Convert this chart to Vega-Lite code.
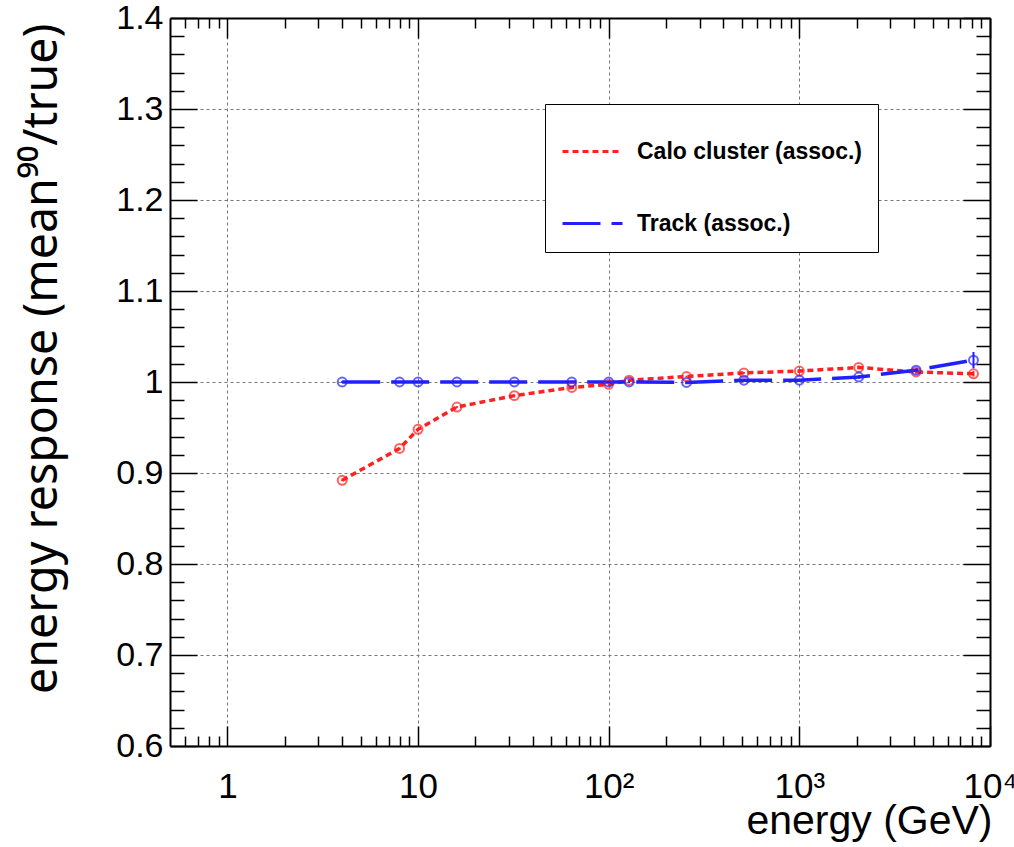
{
  "$schema": "https://vega.github.io/schema/vega-lite/v6.json",
  "autosize": "none",
  "width": 820,
  "height": 728,
  "padding": {"left": 170, "top": 18, "right": 24, "bottom": 101},
  "background": "white",
  "config": {
    "view": {"stroke": null},
    "font": "Liberation Sans",
    "axis": {"labelFont": "Liberation Sans", "titleFont": "Liberation Sans", "labelColor": "black", "titleColor": "black", "tickColor": "black", "domainColor": "black"}
  },
  "data": {
    "values": [
      {"series": "Calo cluster (assoc.)", "energy": 4, "resp": 0.892, "err": 0.001},
      {"series": "Calo cluster (assoc.)", "energy": 8, "resp": 0.927, "err": 0.001},
      {"series": "Calo cluster (assoc.)", "energy": 10, "resp": 0.948, "err": 0.001},
      {"series": "Calo cluster (assoc.)", "energy": 16, "resp": 0.9725, "err": 0.001},
      {"series": "Calo cluster (assoc.)", "energy": 32, "resp": 0.985, "err": 0.001},
      {"series": "Calo cluster (assoc.)", "energy": 64, "resp": 0.994, "err": 0.001},
      {"series": "Calo cluster (assoc.)", "energy": 100, "resp": 0.9975, "err": 0.001},
      {"series": "Calo cluster (assoc.)", "energy": 128, "resp": 1.002, "err": 0.001},
      {"series": "Calo cluster (assoc.)", "energy": 256, "resp": 1.006, "err": 0.001},
      {"series": "Calo cluster (assoc.)", "energy": 512, "resp": 1.010, "err": 0.001},
      {"series": "Calo cluster (assoc.)", "energy": 1000, "resp": 1.012, "err": 0.002},
      {"series": "Calo cluster (assoc.)", "energy": 2048, "resp": 1.016, "err": 0.002},
      {"series": "Calo cluster (assoc.)", "energy": 4096, "resp": 1.011, "err": 0.002},
      {"series": "Calo cluster (assoc.)", "energy": 8192, "resp": 1.009, "err": 0.003},
      {"series": "Track (assoc.)", "energy": 4, "resp": 1.000, "err": 0.001},
      {"series": "Track (assoc.)", "energy": 8, "resp": 1.000, "err": 0.001},
      {"series": "Track (assoc.)", "energy": 10, "resp": 1.000, "err": 0.001},
      {"series": "Track (assoc.)", "energy": 16, "resp": 1.000, "err": 0.001},
      {"series": "Track (assoc.)", "energy": 32, "resp": 1.000, "err": 0.001},
      {"series": "Track (assoc.)", "energy": 64, "resp": 1.000, "err": 0.001},
      {"series": "Track (assoc.)", "energy": 100, "resp": 1.000, "err": 0.001},
      {"series": "Track (assoc.)", "energy": 128, "resp": 1.000, "err": 0.001},
      {"series": "Track (assoc.)", "energy": 256, "resp": 0.9995, "err": 0.001},
      {"series": "Track (assoc.)", "energy": 512, "resp": 1.002, "err": 0.001},
      {"series": "Track (assoc.)", "energy": 1000, "resp": 1.002, "err": 0.001},
      {"series": "Track (assoc.)", "energy": 2048, "resp": 1.0055, "err": 0.002},
      {"series": "Track (assoc.)", "energy": 4096, "resp": 1.013, "err": 0.002},
      {"series": "Track (assoc.)", "energy": 8192, "resp": 1.024, "err": 0.009}
    ]
  },
  "resolve": {"axis": {"x": "independent", "y": "independent"}},
  "layer": [
    {
      "mark": {"type": "line", "strokeWidth": 3.5},
      "encoding": {
        "x": {"field": "energy", "type": "quantitative",
          "scale": {"type": "log", "domain": [0.5, 10000], "nice": false},
          "axis": {"orient": "bottom", "values": [1, 10, 100, 1000, 10000],
            "labelExpr": "datum.value == 1 ? '1' : datum.value == 10 ? '10' : datum.value == 100 ? '10²' : datum.value == 1000 ? '10³' : '10⁴'",
            "labelFontSize": 35, "labelPadding": 43, "labelFlush": false, "labelOverlap": false, "labelBound": false,
            "tickSize": -20, "tickWidth": 1.5, "domainWidth": 2,
            "grid": true, "gridDash": [3, 3], "gridColor": "#777777", "gridWidth": 1,
            "title": "energy (GeV)", "titleFontSize": 41, "titleFontWeight": "normal",
            "titleAnchor": "end", "titleAlign": "right", "titleX": 822, "titleY": 87, "titleBaseline": "alphabetic"}},
        "y": {"field": "resp", "type": "quantitative",
          "scale": {"domain": [0.6, 1.4], "nice": false, "zero": false},
          "axis": {"orient": "left", "values": [0.6, 0.7, 0.8, 0.9, 1.0, 1.1, 1.2, 1.3, 1.4],
            "labelExpr": "datum.value == 1 ? '1' : format(datum.value, '.1f')",
            "labelFontSize": 34, "labelPadding": 34, "labelOverlap": false, "labelBound": false, "labelFlush": false,
            "tickSize": -27, "tickWidth": 1.5, "domainWidth": 2,
            "grid": true, "gridDash": [3, 3], "gridColor": "#777777", "gridWidth": 1,
            "title": "energy response (mean⁹⁰/true)", "titleFont": "Noto Sans", "titleFontSize": 46.5, "titleFontWeight": "normal",
            "titleAngle": 270, "titleAlign": "right", "titleBaseline": "top", "titleX": -151, "titleY": 5}},
        "color": {"field": "series", "type": "nominal",
          "scale": {"domain": ["Calo cluster (assoc.)", "Track (assoc.)"], "range": ["#ff2020", "#2020ff"]},
          "legend": {"orient": "none", "legendX": 375, "legendY": 86, "title": null,
            "fillColor": "white", "strokeColor": "black", "padding": 16,
            "symbolType": "stroke", "symbolSize": 3600, "symbolStrokeWidth": 3,
            "labelFontSize": 23, "labelFontWeight": "bold", "labelFont": "Liberation Sans", "labelColor": "black",
            "labelOffset": 13, "rowPadding": 28, "labelLimit": 400}},
        "strokeDash": {"field": "series", "type": "nominal",
          "scale": {"domain": ["Calo cluster (assoc.)", "Track (assoc.)"], "range": [[6, 4], [38, 11]]},
          "legend": {"orient": "none", "legendX": 375, "legendY": 86, "title": null,
            "fillColor": "white", "strokeColor": "black", "padding": 16,
            "symbolType": "stroke", "symbolSize": 3600, "symbolStrokeWidth": 3,
            "labelFontSize": 23, "labelFontWeight": "bold", "labelFont": "Liberation Sans", "labelColor": "black",
            "labelOffset": 13, "rowPadding": 28, "labelLimit": 400}}
      }
    },
    {
      "transform": [{"filter": "datum.series == 'Calo cluster (assoc.)'"}],
      "mark": {"type": "point", "shape": "circle", "filled": false, "size": 80, "strokeWidth": 2},
      "encoding": {
        "x": {"field": "energy", "type": "quantitative",
          "axis": {"orient": "top", "values": [1, 10, 100, 1000, 10000], "labels": false, "grid": false,
            "tickSize": -20, "tickWidth": 1.5, "domainWidth": 2, "title": null}},
        "y": {"field": "resp", "type": "quantitative",
          "axis": {"orient": "right", "values": [0.6, 0.7, 0.8, 0.9, 1.0, 1.1, 1.2, 1.3, 1.4], "labels": false, "grid": false,
            "tickSize": -27, "tickWidth": 1.5, "domainWidth": 2, "title": null}},
        "color": {"field": "series", "type": "nominal", "legend": null}
      }
    },
    {
      "transform": [{"filter": "datum.series == 'Track (assoc.)'"}],
      "mark": {"type": "point", "shape": "circle", "filled": false, "size": 80, "strokeWidth": 2},
      "encoding": {
        "x": {"field": "energy", "type": "quantitative",
          "axis": {"orient": "top", "values": [0.6, 0.7, 0.8, 0.9, 2, 3, 4, 5, 6, 7, 8, 9, 20, 30, 40, 50, 60, 70, 80, 90, 200, 300, 400, 500, 600, 700, 800, 900, 2000, 3000, 4000, 5000, 6000, 7000, 8000, 9000],
            "labels": false, "grid": false, "domain": false, "tickSize": -10, "tickWidth": 1.5, "title": null}},
        "y": {"field": "resp", "type": "quantitative",
          "axis": {"orient": "right", "values": [0.62, 0.64, 0.66, 0.68, 0.72, 0.74, 0.76, 0.78, 0.82, 0.84, 0.86, 0.88, 0.92, 0.94, 0.96, 0.98, 1.02, 1.04, 1.06, 1.08, 1.12, 1.14, 1.16, 1.18, 1.22, 1.24, 1.26, 1.28, 1.32, 1.34, 1.36, 1.38],
            "labels": false, "grid": false, "domain": false, "tickSize": -14, "tickWidth": 1.5, "title": null}},
        "color": {"field": "series", "type": "nominal", "legend": null}
      }
    },
    {
      "mark": {"type": "errorbar", "ticks": false, "thickness": 2},
      "encoding": {
        "x": {"field": "energy", "type": "quantitative",
          "axis": {"orient": "bottom", "values": [0.6, 0.7, 0.8, 0.9, 2, 3, 4, 5, 6, 7, 8, 9, 20, 30, 40, 50, 60, 70, 80, 90, 200, 300, 400, 500, 600, 700, 800, 900, 2000, 3000, 4000, 5000, 6000, 7000, 8000, 9000],
            "labels": false, "grid": false, "domain": false, "tickSize": -10, "tickWidth": 1.5, "title": null}},
        "y": {"field": "resp", "type": "quantitative",
          "axis": {"orient": "left", "values": [0.62, 0.64, 0.66, 0.68, 0.72, 0.74, 0.76, 0.78, 0.82, 0.84, 0.86, 0.88, 0.92, 0.94, 0.96, 0.98, 1.02, 1.04, 1.06, 1.08, 1.12, 1.14, 1.16, 1.18, 1.22, 1.24, 1.26, 1.28, 1.32, 1.34, 1.36, 1.38],
            "labels": false, "grid": false, "domain": false, "tickSize": -14, "tickWidth": 1.5, "title": null}},
        "yError": {"field": "err"},
        "color": {"field": "series", "type": "nominal", "legend": null}
      }
    }
  ]
}
